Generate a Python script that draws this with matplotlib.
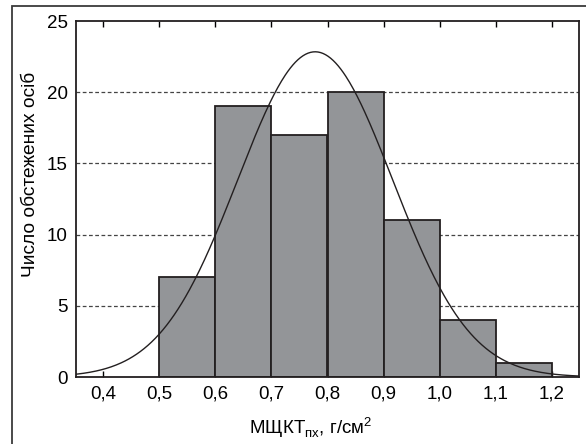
import numpy as np
import matplotlib
matplotlib.use("Agg")
import matplotlib.pyplot as plt
from matplotlib.patches import Rectangle

# дані гістограми
bin_edges = [0.5, 0.6, 0.7, 0.8, 0.9, 1.0, 1.1, 1.2]
counts = [7, 19, 17, 20, 11, 4, 1]
x_ticks = [0.4, 0.5, 0.6, 0.7, 0.8, 0.9, 1.0, 1.1, 1.2]
x_tick_labels = ["0,4", "0,5", "0,6", "0,7", "0,8", "0,9", "1,0", "1,1", "1,2"]
y_ticks = [0, 5, 10, 15, 20, 25]

# параметри нормальної кривої
fit_mean = 0.778
fit_sd = 0.138

plt.rcParams['font.family'] = ['Liberation Sans', 'DejaVu Sans']

fig = plt.figure(figsize=(5.86, 4.44), dpi=100)
ax = fig.add_axes([76 / 586, 1 - 377 / 444, (579 - 76) / 586, (377 - 21) / 444])

# зовнішня рамка
fig.patches.append(Rectangle((12 / 586, -0.1), 1.2, 1 - 6 / 444 + 0.1,
                             transform=fig.transFigure, fill=False,
                             edgecolor="#3a3a3a", linewidth=1.3))

# сітка
for y in y_ticks[1:-1]:
    ax.axhline(y, color="#444444", linestyle=(0, (3, 2)), linewidth=0.9, zorder=1)

widths = np.diff(bin_edges)
ax.bar(bin_edges[:-1], counts, width=widths, align="edge",
       color="#939598", edgecolor="#231f20", linewidth=1.3, zorder=2)

# нормальна крива
n = sum(counts)
xs = np.linspace(0.352, 1.248, 400)
ys = n * 0.1 / (fit_sd * np.sqrt(2 * np.pi)) * np.exp(-(xs - fit_mean) ** 2 / (2 * fit_sd ** 2))
ax.plot(xs, ys, color="#231f20", linewidth=1.0, zorder=3)

ax.set_xlim(0.352, 1.248)
ax.set_ylim(0, 25)
ax.set_xticks(x_ticks)
ax.set_xticklabels(x_tick_labels)
ax.set_yticks(y_ticks)
ax.tick_params(axis="x", direction="in", top=True, length=4, width=1.0, labelsize=13.5, pad=6)
ax.tick_params(axis="y", length=0, labelsize=13.5, pad=6)
for s in ax.spines.values():
    s.set_linewidth(1.3)
    s.set_color("#231f20")

ax.set_ylabel("Число обстежених осіб", fontsize=13.8)
ax.yaxis.label.set_va("center")
ax.yaxis.set_label_coords(-(76 - 31) / 503, 0.57)
ax.set_xlabel("МЩКТ$_{\\mathregular{пх}}$, г/см$^{\\mathregular{2}}$", fontsize=13.5)
ax.xaxis.label.set_va("center")
ax.xaxis.set_label_coords(0.467, -(428 - 377) / 356)

fig.savefig("out.png", dpi=100)
